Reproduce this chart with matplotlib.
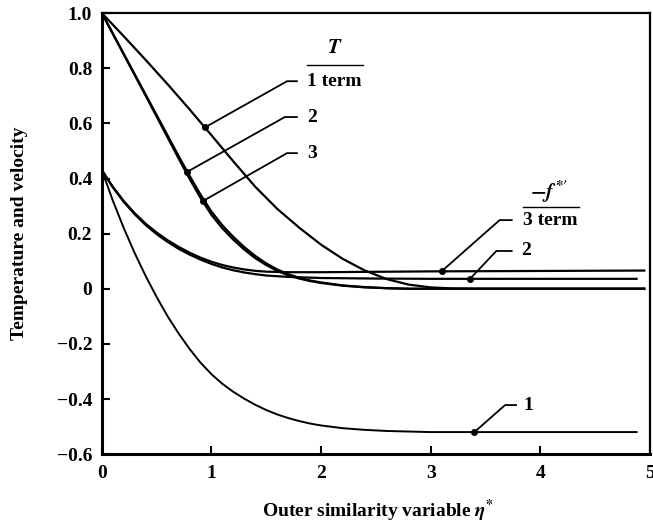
import matplotlib
matplotlib.use("Agg")
import matplotlib.pyplot as plt
import numpy as np

plt.rcParams['font.family'] = ['Liberation Serif', 'DejaVu Serif']
plt.rcParams['font.weight'] = 'bold'
plt.rcParams['axes.labelweight'] = 'bold'
plt.rcParams['mathtext.fontset'] = 'stix'

# temperature profiles T (1, 2 and 3 term)
t1_x = [0.0, 0.2, 0.4, 0.6, 0.8, 1.0, 1.2, 1.4, 1.6, 1.8, 2.0, 2.2, 2.4, 2.6, 2.8, 3.0, 3.2, 3.4, 4.95]
t1_y = [1.0, 0.916, 0.830, 0.742, 0.651, 0.557, 0.462, 0.370, 0.290, 0.222, 0.160, 0.108, 0.066, 0.035, 0.015, 0.005, 0.001, 0.0, 0.0]
t2_x = [0.0, 0.2, 0.4, 0.6, 0.7, 0.8, 0.9, 1.0, 1.1, 1.2, 1.3, 1.4, 1.5, 1.6, 1.7, 1.8, 1.9, 2.0, 2.2, 2.4, 2.6, 2.8, 4.95]
t2_y = [1.0, 0.852, 0.704, 0.556, 0.482, 0.410, 0.342, 0.280, 0.230, 0.188, 0.151, 0.119, 0.092, 0.070, 0.053, 0.040, 0.030, 0.023, 0.012, 0.006, 0.002, 0.0, 0.0]
t3_x = [0.0, 0.2, 0.4, 0.6, 0.7, 0.8, 0.9, 1.0, 1.1, 1.2, 1.3, 1.4, 1.5, 1.6, 1.7, 1.8, 1.9, 2.0, 2.2, 2.4, 2.6, 2.8, 4.95]
t3_y = [1.0, 0.850, 0.700, 0.549, 0.473, 0.399, 0.330, 0.268, 0.219, 0.178, 0.142, 0.111, 0.086, 0.065, 0.049, 0.037, 0.028, 0.021, 0.011, 0.005, 0.002, 0.0, 0.0]

# velocity profiles -f*' (1, 2 and 3 term)
f1_x = [0.0, 0.1, 0.2, 0.3, 0.4, 0.5, 0.6, 0.7, 0.8, 0.9, 1.0, 1.1, 1.2, 1.3, 1.4, 1.5, 1.6, 1.7, 1.8, 1.9, 2.0, 2.2, 2.4, 2.6, 2.8, 3.0, 4.88]
f1_y = [0.43, 0.32, 0.22, 0.129, 0.046, -0.03, -0.10, -0.162, -0.218, -0.268, -0.31, -0.345, -0.374, -0.399, -0.421, -0.44, -0.456, -0.469, -0.48, -0.489, -0.496, -0.506, -0.512, -0.516, -0.518, -0.52, -0.52]
f2_x = [0.0, 0.1, 0.2, 0.3, 0.4, 0.5, 0.6, 0.7, 0.8, 0.9, 1.0, 1.1, 1.2, 1.3, 1.4, 1.5, 1.7, 2.0, 2.5, 3.0, 4.88]
f2_y = [0.43, 0.368, 0.315, 0.27, 0.231, 0.198, 0.17, 0.145, 0.124, 0.106, 0.09, 0.077, 0.067, 0.059, 0.053, 0.048, 0.043, 0.039, 0.037, 0.036, 0.036]
f3_x = [0.0, 0.1, 0.2, 0.3, 0.4, 0.5, 0.6, 0.7, 0.8, 0.9, 1.0, 1.1, 1.2, 1.3, 1.4, 1.5, 1.7, 2.0, 3.0, 4.95]
f3_y = [0.43, 0.37, 0.318, 0.274, 0.236, 0.204, 0.176, 0.152, 0.131, 0.113, 0.098, 0.086, 0.077, 0.07, 0.065, 0.062, 0.06, 0.06, 0.063, 0.066]

x_ticks = [0, 1, 2, 3, 4, 5]
y_ticks = [-0.6, -0.4, -0.2, 0.0, 0.2, 0.4, 0.6, 0.8, 1.0]
y_ticklabels = ['\u22120.6', '\u22120.4', '\u22120.2', '0', '0.2', '0.4', '0.6', '0.8', '1.0']

fig = plt.figure(figsize=(6.53, 5.25), dpi=100)
ax = fig.add_axes([0.156, 0.135, 0.839, 0.84])

ax.plot(t1_x, t1_y, color='black', lw=1.6)
ax.plot(t2_x, t2_y, color='black', lw=1.6)
ax.plot(t3_x, t3_y, color='black', lw=1.6)
ax.plot(f1_x, f1_y, color='black', lw=1.4)
ax.plot(f2_x, f2_y, color='black', lw=1.6)
ax.plot(f3_x, f3_y, color='black', lw=1.6)


def callout(cx, xs, ys, elbow, end_x, text_x, text, fs=14):
    # dot on the curve, slanted leader, short horizontal stub, then the label
    my = np.interp(cx, xs, ys)
    ax.plot([cx, elbow[0], end_x], [my, elbow[1], elbow[1]], color='black', lw=1.3)
    ax.plot(cx, my, 'o', color='black', ms=4)
    ax.text(text_x, elbow[1], text, fontsize=fs, va='center', ha='left')


callout(0.94, t1_x, t1_y, (1.69, 0.753), 1.78, 1.87, '1 term')
callout(0.78, t2_x, t2_y, (1.67, 0.623), 1.78, 1.87, '2')
callout(0.92, t3_x, t3_y, (1.69, 0.492), 1.78, 1.87, '3')
callout(3.10, f3_x, f3_y, (3.63, 0.249), 3.74, 3.84, '3 term')
callout(3.36, f2_x, f2_y, (3.60, 0.137), 3.74, 3.83, '2')
callout(3.40, f1_x, f1_y, (3.68, -0.422), 3.78, 3.85, '1')

# fraction-style headings over the term labels
ax.plot([1.87, 2.38], [0.81, 0.81], color='black', lw=1.0)
ax.text(2.13, 0.872, r'$\boldsymbol{T}$', fontsize=15, ha='center', va='center')
ax.plot([3.84, 4.35], [0.296, 0.296], color='black', lw=1.0)
ax.text(4.08, 0.35, r"$\boldsymbol{-f^{*\prime}}$", fontsize=15, ha='center', va='center')

ax.set_xlim(0, 5)
ax.set_ylim(-0.6, 1.0)
ax.set_xticks(x_ticks)
ax.set_yticks(y_ticks)
ax.set_yticklabels(y_ticklabels)
ax.tick_params(direction='in', length=6, width=1.5, labelsize=14)
ax.tick_params(axis='x', pad=8)
ax.tick_params(axis='y', pad=7)

for side in ['left', 'bottom']:
    ax.spines[side].set_linewidth(2.2)
for side in ['top', 'right']:
    ax.spines[side].set_linewidth(1.6)

ax.set_xlabel(r'Outer similarity variable $\boldsymbol{\eta^{*}}$', fontsize=14)
ax.set_ylabel('Temperature and velocity', fontsize=14)
ax.xaxis.set_label_coords(0.504, -0.1)
ax.yaxis.set_label_coords(-0.135, 0.5)

fig.savefig('out.png', dpi=100)
